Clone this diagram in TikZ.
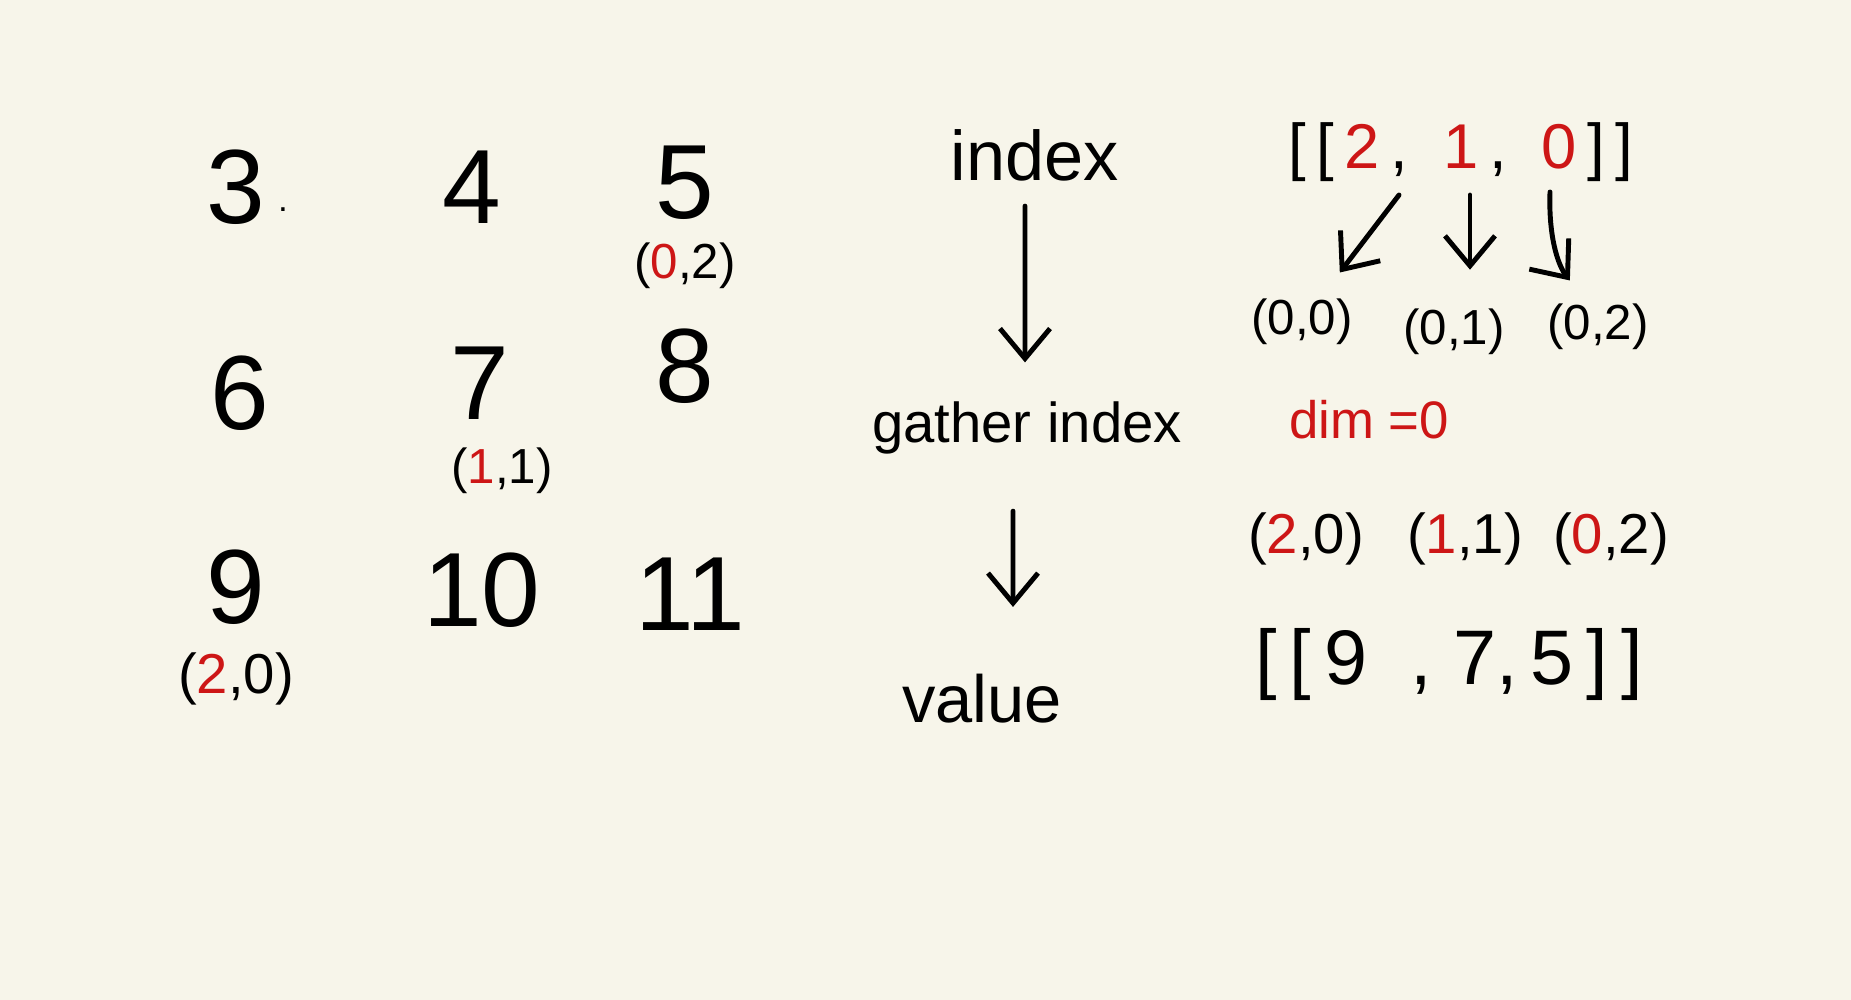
\documentclass[tikz,border=0pt]{standalone}
\usepackage{fontspec}
\setmainfont{Liberation Sans}
\usetikzlibrary{positioning,arrows.meta}
\definecolor{paper}{RGB}{247,245,234}
\definecolor{mark}{RGB}{205,22,22}
\newcommand{\hl}[1]{\textcolor{mark}{#1}}

\begin{document}
\begin{tikzpicture}[
  x=0.01cm, y=-0.01cm,
  cell/.style={font=\fontsize{30}{32}\selectfont, inner sep=1pt},
  idxlabel/.style={font=\fontsize{14}{16}\selectfont, inner sep=1pt},
  word/.style={font=\fontsize{19}{22}\selectfont, inner sep=2pt},
  flow/.style={-{Straight Barb[length=3mm, width=5mm]}, line width=1.4pt, line cap=round}
]
\fill[paper] (0,0) rectangle (1851,1000);

\node[cell] (c3) at (236,187) {3};
\node[idxlabel, font=\fontsize{10}{10}\selectfont] (dot3) at (283,210) {.};
\node[cell] (c4) at (472,187) {4};
\node[cell] (c5) at (685,183) {5};
\node[cell] (c6) at (240,393) {6};
\node[cell] (c7) at (480,383) {7};
\node[cell] (c8) at (685,366) {8};
\node[cell] (c9) at (236,587) {9};
\node[cell] (c10) at (482,590) {10};
\node[cell] (c11) at (690,594) {11};

\node[idxlabel, below=1.5mm of c5] (i5) {(\hl{0},2)};
\node[idxlabel, below=2mm of c7, xshift=2.2mm] (i7) {(\hl{1},1)};
\node[idxlabel, font=\fontsize{16}{18}\selectfont, below=2mm of c9] (i9) {(\hl{2},0)};

\node[word, font=\fontsize{20}{24}\selectfont] (idx) at (1035,155) {index};
\node[word, font=\fontsize{16}{19}\selectfont] (gat) at (1027,428) {gather index};
\node[word] (val) at (982,699) {value};

\draw[flow, shorten <=5pt, shorten >=9pt] ([xshift=-1mm]idx.south) -- ([xshift=-0.2mm]gat.north);
\draw[flow, shorten <=14pt, shorten >=17pt] ([xshift=-1.4mm]gat.south) -- ([xshift=3.1mm]val.north);

\node[word, font=\fontsize{18}{22}\selectfont] (lst) at (1461,152) {[\,[\,\hl{2}\,,\; \hl{1}\,,\; \hl{0}\,]\,]};
\coordinate (s0) at (1399,195);
\coordinate (s1) at (1470,195);
\coordinate (s2) at (1550,192);

\node[idxlabel] (t0) at (1302,322) {(0,0)};
\node[idxlabel] (t1) at (1454,332) {(0,1)};
\node[idxlabel] (t2) at (1598,327) {(0,2)};

\draw[flow, shorten >=8pt] (s0) -- (t0);
\draw[flow, shorten >=10pt] (s1) -- (s1 |- t1.north);
\draw[flow, shorten >=7pt] (s2) to[bend right=20] ([xshift=-1.3mm]t2.north);

\node[idxlabel, font=\fontsize{15}{18}\selectfont, text=mark] (dim) at (1369,420) {dim =0};

\node[idxlabel, font=\fontsize{16}{18}\selectfont] (r0) at (1306,539) {(\hl{2},0)};
\node[idxlabel, font=\fontsize{16}{18}\selectfont] (r1) at (1465,539) {(\hl{1},1)};
\node[idxlabel, font=\fontsize{16}{18}\selectfont] (r2) at (1611,539) {(\hl{0},2)};

\node[word, font=\fontsize{22}{26}\selectfont] (res) at (1449,664) {[\,[\,9\;\;,\;7,\,5\,]\,]};
\end{tikzpicture}
\end{document}
